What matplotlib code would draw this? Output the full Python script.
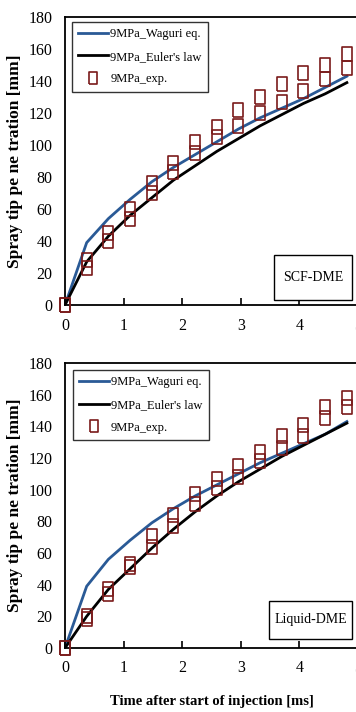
import numpy as np
import matplotlib.pyplot as plt
from matplotlib.lines import Line2D
from matplotlib.patches import Rectangle

plt.rcParams['font.family'] = ['Liberation Serif', 'DejaVu Serif']

t = [0, 0.37, 0.74, 1.11, 1.48, 1.85, 2.22, 2.59, 2.96, 3.33, 3.70, 4.07, 4.44, 4.81]

# SCF-DME
scf_waguri = [0, 39, 54, 66, 77, 86, 94, 102, 110, 117, 123, 129, 136, 143]
scf_euler = [0, 27, 43, 56, 67, 78, 87, 96, 104, 112, 119, 126, 132, 139]
scf_exp_lo = [0, 23, 40, 54, 70, 83, 95, 105, 112, 120, 127, 134, 141, 148]
scf_exp_hi = [0, 28, 45, 60, 76, 89, 102, 111, 122, 130, 138, 145, 150, 157]

# Liquid-DME
liq_waguri = [0, 39, 56, 68, 79, 88, 96, 103, 110, 117, 123, 129, 135, 143]
liq_euler = [0, 20, 37, 50, 63, 75, 86, 96, 105, 113, 121, 128, 135, 142]
liq_exp_lo = [0, 18, 34, 51, 64, 77, 91, 101, 108, 118, 126, 134, 145, 152]
liq_exp_hi = [0, 20, 37, 53, 71, 84, 97, 107, 115, 124, 134, 141, 152, 158]

labels = ["9MPa_Waguri eq.", "9MPa_Euler's law", "9MPa_exp."]
blue = '#2a5a96'
red = '#7a1a1a'

# slightly tall box marker (the source figure is squeezed horizontally)
box = [(-0.8, -1), (0.8, -1), (0.8, 1), (-0.8, 1), (-0.8, -1)]

fig = plt.figure(figsize=(3.56, 7.12), dpi=100)
ax1 = fig.add_axes([0.1826, 0.5716, 0.823, 0.4045])
ax2 = fig.add_axes([0.1826, 0.0899, 0.823, 0.4003])


def panel(ax, wag, eul, lo, hi, tag, legbox, tagbox):
    ax.plot(t, wag, color=blue, lw=2.0, zorder=2)
    ax.plot(t, eul, color='black', lw=2.0, zorder=2)
    for vals in (lo, hi):
        ax.plot(t, vals, ls='none', marker=box, ms=9.5, mfc='none',
                mec=red, mew=1.2, zorder=3, clip_on=False)
    ax.set_xlim(0, 5)
    ax.set_ylim(0, 180)
    ax.set_xticks([0, 1, 2, 3, 4, 5])
    ax.set_yticks(range(0, 181, 20))
    ax.tick_params(axis='x', direction='in', length=5, width=1.2, labelsize=11.5, pad=9)
    ax.tick_params(axis='y', direction='in', length=0, labelsize=11.5, pad=9)
    for s in ax.spines.values():
        s.set_linewidth(1.3)
    ax.set_ylabel('Spray tip pe ne tration [mm]', fontsize=12.5, fontweight='bold', labelpad=4)
    handles = [Line2D([], [], color=blue, lw=2.0),
               Line2D([], [], color='black', lw=2.0),
               Line2D([], [], ls='none', marker=box, ms=8, mfc='none', mec=red, mew=1.2)]
    leg = ax.legend(handles, labels, loc='upper left', fontsize=9, frameon=True,
                    fancybox=False, edgecolor='black', handlelength=2.4,
                    borderpad=0.5, labelspacing=0.85, handletextpad=0.15,
                    borderaxespad=0, bbox_to_anchor=legbox)
    leg.get_frame().set_linewidth(1.0)
    x0, y0, x1, y1 = tagbox
    ax.add_patch(Rectangle((x0, y0), x1 - x0, y1 - y0, transform=ax.transAxes,
                           fc='white', ec='black', lw=1.0, zorder=4))
    ax.text((x0 + x1) / 2, (y0 + y1) / 2, tag, transform=ax.transAxes,
            ha='center', va='center', fontsize=10, zorder=5)


panel(ax1, scf_waguri, scf_euler, scf_exp_lo, scf_exp_hi, 'SCF-DME',
      (0.024, 0.983), (0.713, 0.017, 0.980, 0.174))
panel(ax2, liq_waguri, liq_euler, liq_exp_lo, liq_exp_hi, 'Liquid-DME',
      (0.027, 0.975), (0.696, 0.032, 0.980, 0.166))
ax2.set_xlabel('Time after start of injection [ms]', fontsize=10.5, fontweight='bold', labelpad=13)

fig.savefig('out.png', dpi=100)
